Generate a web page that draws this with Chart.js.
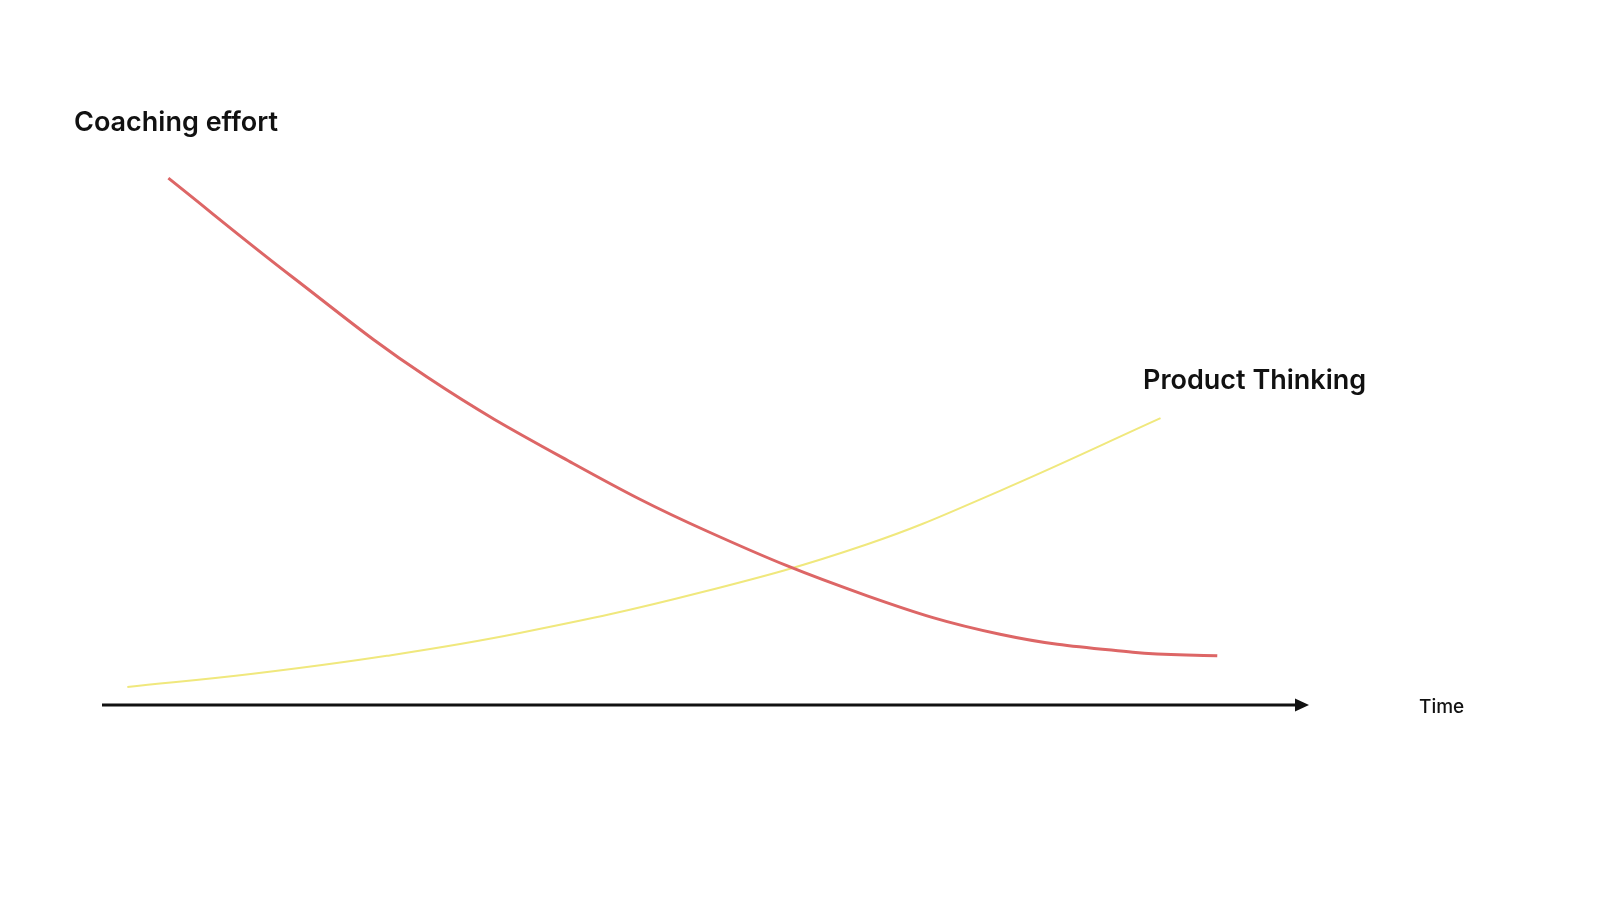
<!DOCTYPE html>
<html>
<head>
<meta charset="utf-8">
<script src="https://cdn.jsdelivr.net/npm/chart.js@4"></script>
<style>
  html, body { margin: 0; padding: 0; background: #fff; }
  #wrap { width: 1600px; height: 900px; }
</style>
</head>
<body>
<div id="wrap"><canvas id="chart"></canvas></div>
<script>
// values (time 0-100, level 0-100)
const coachingTime = [5.5, 15.8, 26.9, 39.0, 50.1, 63.4, 74.4, 85.4, 92.4];
const coachingLevel = [87.8, 71.3, 54.7, 40.3, 29.0, 18.2, 11.8, 8.8, 8.2];

const productTime = [2.1, 12.5, 23.6, 34.6, 49.5, 63.4, 74.4, 87.7];
const productLevel = [3.0, 5.2, 8.2, 12.0, 18.7, 26.8, 35.7, 47.8];

const labels = {
  yTitle: "Coaching effort",
  product: "Product Thinking",
  xTitle: "Time",
};

function toPoints(xs, ys) {
  return xs.map((x, i) => ({ x: x, y: ys[i] }));
}

// draws the time arrow and the free text labels
const decorations = {
  id: "decorations",
  afterDatasetsDraw(chart) {
    const ctx = chart.ctx;
    const xs = chart.scales.x;
    const ys = chart.scales.y;
    const y0 = ys.getPixelForValue(0);
    const xStart = xs.getPixelForValue(xs.min);
    const xEnd = xs.getPixelForValue(xs.max);

    ctx.save();
    ctx.strokeStyle = "#111";
    ctx.fillStyle = "#111";
    ctx.lineWidth = 3;
    ctx.beginPath();
    ctx.moveTo(xStart, y0);
    ctx.lineTo(xEnd - 10, y0);
    ctx.stroke();
    ctx.beginPath();
    ctx.moveTo(xEnd, y0);
    ctx.lineTo(xEnd - 14, y0 - 6.5);
    ctx.lineTo(xEnd - 14, y0 + 6.5);
    ctx.closePath();
    ctx.fill();

    ctx.textBaseline = "alphabetic";
    ctx.textAlign = "left";
    ctx.font = "600 27px Inter";
    ctx.fillText(labels.yTitle, 74, 131);

    ctx.fillText(labels.product, 1143, 389);

    ctx.font = "500 19px Inter";
    ctx.fillText(labels.xTitle, xEnd + 110, y0 + 8);
    ctx.restore();
  },
};

new Chart(document.getElementById("chart"), {
  type: "scatter",
  data: {
    datasets: [
      {
        label: labels.yTitle,
        data: toPoints(coachingTime, coachingLevel),
        showLine: true,
        borderColor: "rgb(221, 102, 102)",
        borderWidth: 3,
        pointRadius: 0,
        tension: 0.4,
        clip: false,
      },
      {
        label: labels.product,
        data: toPoints(productTime, productLevel),
        showLine: true,
        borderColor: "rgb(240, 232, 125)",
        borderWidth: 2,
        pointRadius: 0,
        tension: 0.4,
        clip: false,
      },
    ],
  },
  options: {
    responsive: true,
    maintainAspectRatio: false,
    animation: false,
    layout: { padding: { left: 102, right: 291, top: 105, bottom: 195 } },
    plugins: {
      legend: { display: false },
      tooltip: { enabled: false },
    },
    scales: {
      x: { type: "linear", min: 0, max: 100, display: false },
      y: { min: 0, max: 100, display: false },
    },
  },
  plugins: [decorations],
});
</script>
</body>
</html>
